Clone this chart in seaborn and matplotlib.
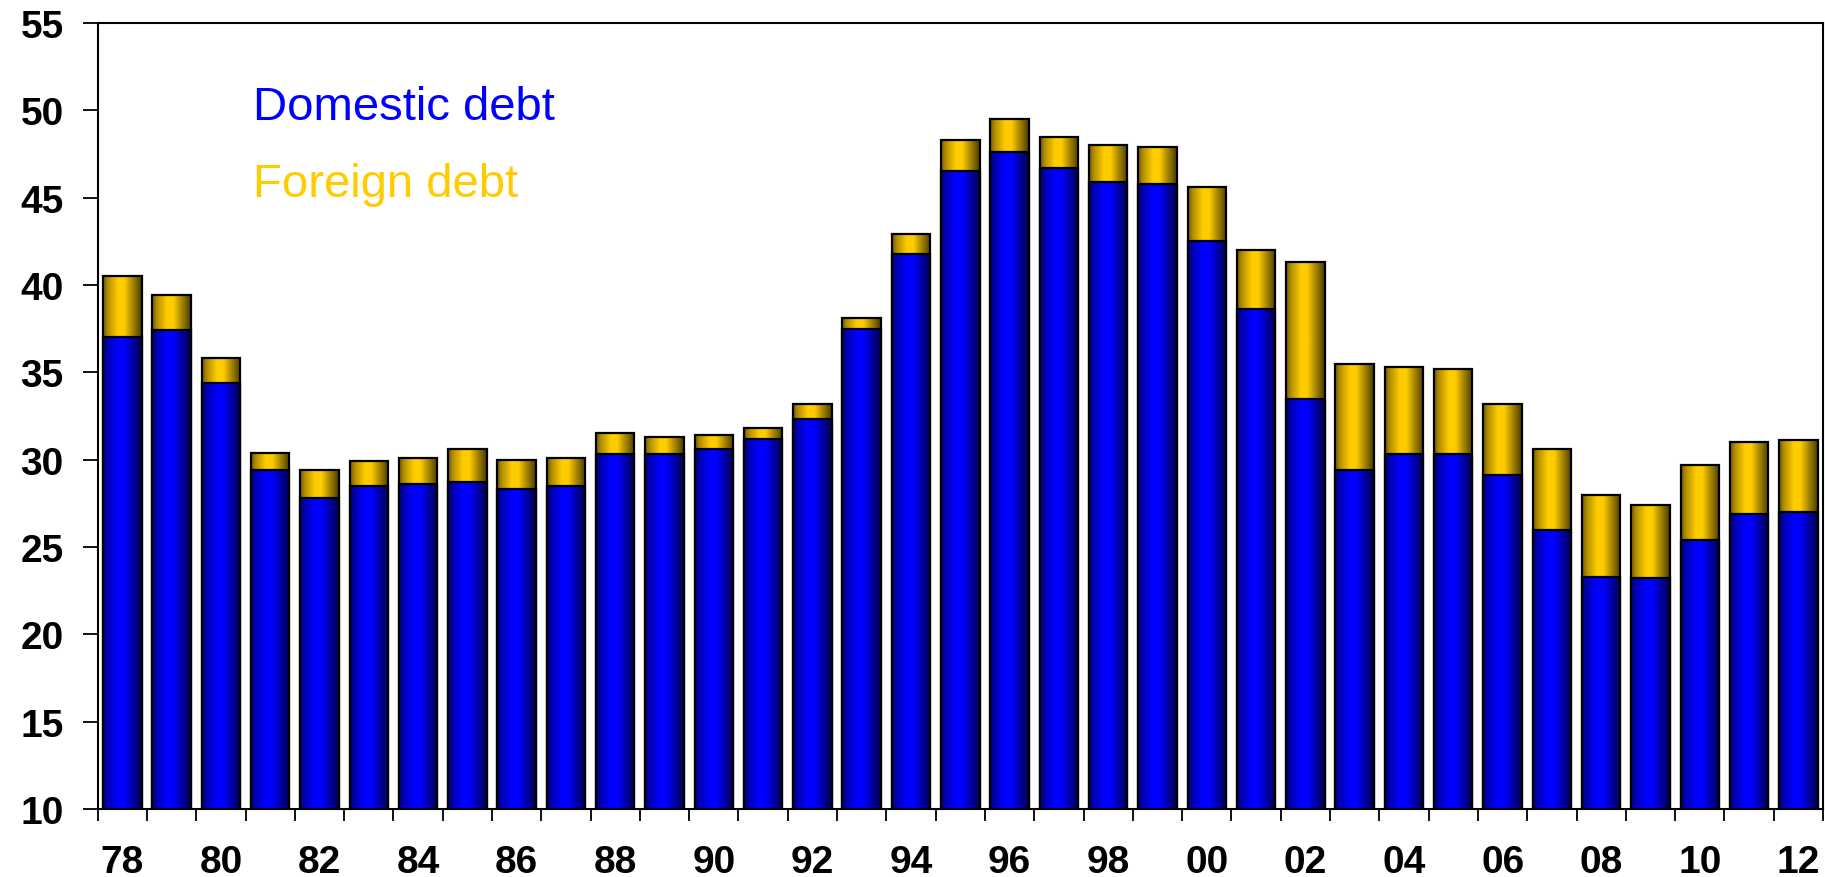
import matplotlib

matplotlib.use("Agg")

import matplotlib.pyplot as plt
import numpy as np
import seaborn as sns
from matplotlib.ticker import FixedLocator, MultipleLocator

# share of GDP, 1978-2012
years = [str(y) for y in range(1978, 2013)]
domestic = [37.0, 37.4, 34.4, 29.4, 27.8, 28.5, 28.6, 28.7, 28.3, 28.5,
            30.3, 30.3, 30.6, 31.2, 32.3, 37.5, 41.8, 46.5, 47.6, 46.7,
            45.9, 45.8, 42.5, 38.6, 33.5, 29.4, 30.3, 30.3, 29.1, 26.0,
            23.3, 23.2, 25.4, 26.9, 27.0]
total = [40.5, 39.4, 35.8, 30.4, 29.4, 29.9, 30.1, 30.6, 30.0, 30.1,
         31.5, 31.3, 31.4, 31.8, 33.2, 38.1, 42.9, 48.3, 49.5, 48.5,
         48.0, 47.9, 45.6, 42.0, 41.3, 35.5, 35.3, 35.2, 33.2, 30.6,
         28.0, 27.4, 29.7, 31.0, 31.1]
tick_labels = [y[2:] if i % 2 == 0 else "" for i, y in enumerate(years)]

BLUE = np.array([0, 0, 255]) / 255
GOLD = np.array([255, 204, 0]) / 255
Y_MIN, Y_MAX = 10, 55

sns.set_style("white")
plt.rcParams["font.family"] = ["Liberation Sans", "DejaVu Sans"]

fig = plt.figure(figsize=(18.25, 8.78), dpi=100)
ax = fig.add_axes([0.0535, 0.0774, 0.9454, 0.8953])

sns.barplot(x=years, y=total, color=GOLD, width=0.78, edgecolor="black",
            linewidth=1.6, ax=ax, saturation=1)
n_gold = len(ax.patches)
sns.barplot(x=years, y=domestic, color=BLUE, width=0.78, edgecolor="black",
            linewidth=1.6, ax=ax, saturation=1)


def shade(base, n=64):
    # cylinder-like shading across the bar width
    t = np.linspace(0, 1, n)
    f = np.interp(t, [0, 0.12, 0.38, 0.55, 0.8, 1.0], [0.45, 0.7, 1.0, 1.0, 0.6, 0.3])
    return (base[None, :] * f[:, None])[None, :, :]


for i, p in enumerate(ax.patches):
    base = GOLD if i < n_gold else BLUE
    z = 1.0 if i < n_gold else 1.2
    x0, y0 = p.get_x(), p.get_y()
    w, h = p.get_width(), p.get_height()
    ax.imshow(shade(base), extent=[x0, x0 + w, max(y0, Y_MIN), y0 + h],
              aspect="auto", interpolation="bilinear", zorder=z)
    p.set_facecolor("none")
    p.set_zorder(z + 0.1)

ax.set_xlim(-0.5, len(years) - 0.5)
ax.set_ylim(Y_MIN, Y_MAX)
ax.yaxis.set_major_locator(MultipleLocator(5))

ax.set_xticks(range(len(years)))
ax.set_xticklabels(tick_labels)
ax.xaxis.set_minor_locator(FixedLocator(np.arange(-0.5, len(years), 1.0)))
ax.tick_params(axis="x", which="major", length=0, pad=25, labelcolor="black")
ax.tick_params(axis="x", which="minor", bottom=True, length=8.5, width=1.3, color="black")
ax.tick_params(axis="y", left=True, length=10.5, width=1.3, color="black", pad=14,
               labelcolor="black")
for lab in ax.get_xticklabels() + ax.get_yticklabels():
    lab.set_fontsize(28)
    lab.set_fontweight("bold")

for s in ax.spines.values():
    s.set_color("black")
    s.set_linewidth(1.5)

ax.text(0.0899, 0.878, "Domestic debt", transform=ax.transAxes, color="#0000FF",
        fontsize=34, ha="left", va="baseline")
ax.text(0.0899, 0.780, "Foreign debt", transform=ax.transAxes, color="#FFCC00",
        fontsize=34, ha="left", va="baseline")

ax.set_xlabel("")
ax.set_ylabel("")
fig.savefig("out.png", dpi=100, facecolor="white")
